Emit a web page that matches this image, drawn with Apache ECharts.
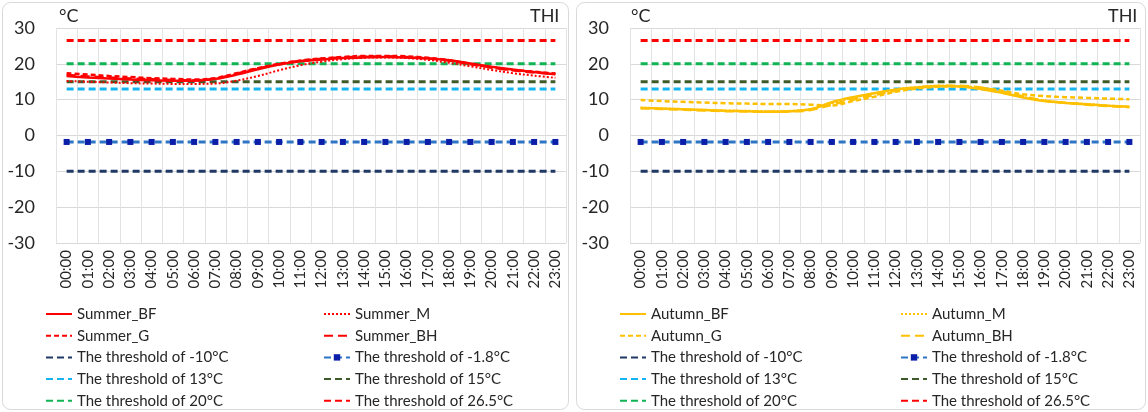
<!DOCTYPE html>
<html><head><meta charset="utf-8">
<script src="https://cdn.jsdelivr.net/npm/echarts@6/dist/echarts.min.js"></script>
<style>html,body{margin:0;padding:0;background:#fff}#c{width:1148px;height:412px}</style>
</head><body><div id="c"></div>
<script>
const hours = ["00:00","01:00","02:00","03:00","04:00","05:00","06:00","07:00","08:00","09:00","10:00","11:00","12:00","13:00","14:00","15:00","16:00","17:00","18:00","19:00","20:00","21:00","22:00","23:00"];
const summerBF = [16.6,16.2,15.9,15.6,15.4,15.3,15.3,15.8,17.0,18.5,19.8,20.7,21.2,21.6,21.8,21.9,21.8,21.5,21.0,20.1,19.2,18.4,17.7,17.1];
const summerM  = [15.2,15.0,14.8,14.6,14.5,14.4,14.4,14.5,15.3,16.6,18.2,19.6,20.6,21.3,21.7,21.8,21.6,21.1,20.3,19.3,18.3,17.4,16.7,16.1];
const summerG  = [17.4,17.0,16.6,16.3,16.0,15.8,15.6,16.0,17.4,18.8,20.0,20.9,21.5,21.9,22.2,22.2,22.1,21.7,21.0,20.0,19.0,18.3,17.8,17.3];
const summerBH = [16.9,16.5,16.2,15.9,15.7,15.5,15.4,15.9,17.2,18.7,19.9,20.8,21.4,21.8,22.0,22.1,21.9,21.5,20.9,19.9,19.0,18.2,17.6,17.2];
const autumnBF = [7.7,7.5,7.3,7.1,6.9,6.8,6.6,6.8,7.3,9.3,10.7,11.8,12.8,13.4,13.8,13.7,13.0,11.9,10.6,9.6,9.1,8.7,8.3,8.0];
const autumnM  = [7.8,7.6,7.4,7.2,7.0,6.9,6.8,6.9,7.4,9.0,10.5,11.8,12.9,13.5,13.9,13.8,13.1,12.0,10.8,9.8,9.2,8.8,8.4,8.1];
const autumnG  = [9.9,9.6,9.4,9.2,9.0,8.9,8.8,8.8,8.6,8.4,9.6,10.8,12.2,13.1,13.6,13.7,13.3,12.5,11.5,11.0,10.7,10.5,10.3,10.1];
const autumnBH = [7.6,7.4,7.2,7.0,6.8,6.7,6.6,6.7,7.1,8.6,10.0,11.3,12.5,13.3,13.8,13.9,13.4,12.3,10.9,9.7,9.1,8.6,8.2,7.9];
const thresholdValues = [-10, -1.8, 13, 15, 20, 26.5];
const thresholdNames = ["The threshold of -10°C","The threshold of -1.8°C","The threshold of 13°C","The threshold of 15°C","The threshold of 20°C","The threshold of 26.5°C"];
const yTicks = [-30,-20,-10,0,10,20,30];

const FONT = 'Lato';
const thrColors = ['#1f3864','#2e75c6','#14b4f0','#3e5a28','#10b455','#ff0000'];

function thresholdSeries(gi){
  return thresholdValues.map((v,i)=>({
    name: thresholdNames[i], type:'line', xAxisIndex:gi, yAxisIndex:gi,
    data: hours.map(()=>v),
    symbol: i===1 ? 'rect' : 'none', symbolSize: 6,
    itemStyle: {color: i===1 ? '#0a1ea8' : thrColors[i]},
    lineStyle: {color: thrColors[i], width: 3, type:[7,4]},
    z: 2, silent: true, animation:false
  }));
}
function curve(name, data, color, type, width, gi){
  return {name, type:'line', xAxisIndex:gi, yAxisIndex:gi, data, smooth:0.35, symbol:'none',
    itemStyle:{color}, lineStyle:{color, width, type}, z:3, animation:false};
}
const grids = [{left:56, right:582, top:28, bottom:169},{left:630, right:8, top:28, bottom:169}];
const xAxes = [0,1].map(i=>({type:'category', gridIndex:i, data:hours, boundaryGap:true,
  axisLine:{show:false}, axisTick:{show:false},
  axisLabel:{rotate:90, interval:0, fontFamily:FONT, fontSize:15, color:'#262626', margin:7},
  splitLine:{show:true, lineStyle:{color:'#e3e3e3', width:1}}}));
const yAxes = [0,1].map(i=>({type:'value', gridIndex:i, min:yTicks[0], max:yTicks[yTicks.length-1], interval:10,
  axisLine:{show:false}, axisTick:{show:false},
  axisLabel:{fontFamily:FONT, fontSize:18, color:'#262626', margin:21},
  splitLine:{lineStyle:{color:'#d9d9d9', width:1}}}));

const legendText = {fontFamily:FONT, fontSize:15, color:'#262626', lineHeight:16};
function legend(left, data){
  return {left, top:306, height:110, padding:0, orient:'vertical', itemWidth:26, itemHeight:8, itemGap:5.7,
    textStyle:legendText, itemStyle:{opacity:0}, selectedMode:false,
    data: data.map(n => n === thresholdNames[1] ? {name:n, itemStyle:{opacity:1}} : n)};
}
const series = [
  curve('Summer_BF', summerBF, '#ff0000', 'solid', 2.5, 0),
  curve('Summer_M', summerM, '#ff0000', [2,2], 2, 0),
  curve('Summer_G', summerG, '#ff0000', [5,3], 2.5, 0),
  curve('Summer_BH', summerBH, '#ff0000', [9,5], 2.5, 0),
  ...thresholdSeries(0),
  curve('Autumn_BF', autumnBF, '#ffc000', 'solid', 2.5, 1),
  curve('Autumn_M', autumnM, '#ffc000', [2,2], 2, 1),
  curve('Autumn_G', autumnG, '#ffc000', [5,3], 2.5, 1),
  curve('Autumn_BH', autumnBH, '#ffc000', [9,5], 2.5, 1),
  ...thresholdSeries(1)
];
const option = {
  backgroundColor:'#fff',
  grid: grids, xAxis: xAxes, yAxis: yAxes, series,
  legend: [
    legend(45, ['Summer_BF','Summer_G',thresholdNames[0],thresholdNames[2],thresholdNames[4]]),
    legend(323, ['Summer_M','Summer_BH',thresholdNames[1],thresholdNames[3],thresholdNames[5]]),
    legend(619, ['Autumn_BF','Autumn_G',thresholdNames[0],thresholdNames[2],thresholdNames[4]]),
    legend(900, ['Autumn_M','Autumn_BH',thresholdNames[1],thresholdNames[3],thresholdNames[5]])
  ],
  graphic: [
    {type:'rect', shape:{x:2.5,y:2.5,width:566,height:407,r:8}, style:{fill:'none', stroke:'#d9d9d9', lineWidth:1}, z:-10},
    {type:'rect', shape:{x:576.5,y:2.5,width:569,height:407,r:8}, style:{fill:'none', stroke:'#d9d9d9', lineWidth:1}, z:-10},
    {type:'text', left:59, top:7, style:{text:'°C', font:'18px Lato', fill:'#262626'}},
    {type:'text', left:530, top:7, style:{text:'THI', font:'18px Lato', fill:'#262626'}},
    {type:'text', left:631, top:7, style:{text:'°C', font:'18px Lato', fill:'#262626'}},
    {type:'text', left:1108, top:7, style:{text:'THI', font:'18px Lato', fill:'#262626'}}
  ]
};
echarts.init(document.getElementById('c')).setOption(option);
</script></body></html>
